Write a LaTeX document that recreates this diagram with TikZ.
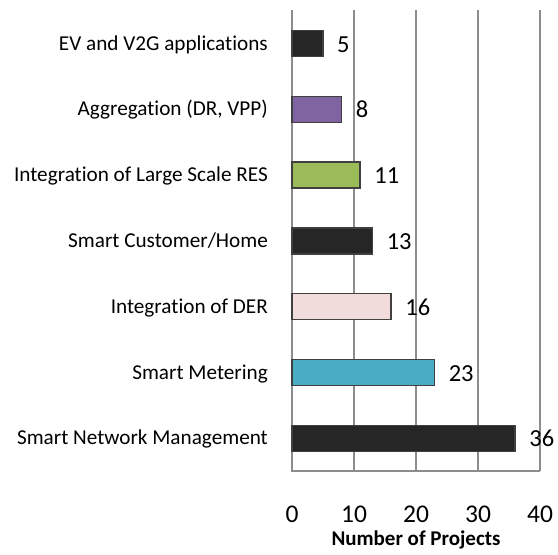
\documentclass[tikz,border=0pt]{standalone}
\usepackage{fontspec}
\setmainfont{Carlito}[Ligatures=NoCommon]
\definecolor{gridc}{HTML}{8C8C8C}
\definecolor{barline}{HTML}{404040}
\definecolor{cdark}{HTML}{262626}
\definecolor{cpurple}{HTML}{8064A2}
\definecolor{cgreen}{HTML}{9BBB59}
\definecolor{cpink}{HTML}{F2DCDB}
\definecolor{cteal}{HTML}{4BACC6}
\begin{document}
\begin{tikzpicture}[x=1pt,y=-1pt,
  grid/.style={draw=gridc,line width=1.3pt},
  bar/.style={draw=barline,line width=1.5pt},
  cat/.style={anchor=base east,inner sep=0pt,font=\fontsize{21.2}{24}\selectfont},
  val/.style={anchor=base west,inner sep=0pt,font=\fontsize{24.5}{28}\selectfont},
  tick/.style={anchor=base,inner sep=0pt,font=\fontsize{25.5}{28}\selectfont},
  axtitle/.style={anchor=base,inner sep=0pt,font=\bfseries\fontsize{21}{24}\selectfont}]
\useasboundingbox (0,0) rectangle (558,555);
% grid lines
\foreach \v in {1,2,3,4} {
  \draw[grid] (292+\v*62,10) -- (292+\v*62,471);
}
\draw[grid] (292,10) -- (292,471) -- (540,471);
% bars
\foreach \i/\val/\col/\lab in {
  0/5/cdark/{EV and V2G applications},
  1/8/cpurple/{Aggregation (DR, VPP)},
  2/11/cgreen/{Integration of Large Scale RES},
  3/13/cdark/{Smart Customer/Home},
  4/16/cpink/{Integration of DER},
  5/23/cteal/{Smart Metering},
  6/36/cdark/{Smart Network Management}} {
  \pgfmathsetmacro{\yc}{43.5+65.8*\i}
  \pgfmathsetmacro{\xe}{292+6.2*\val}
  \draw[bar,fill=\col] (292,\yc-13) rectangle (\xe,\yc+13);
  \node[cat] (c\i) at (268,\yc+6.5) {\lab};
  \node[val] (v\i) at (\xe+14,\yc+8.5) {\val};
}
% tick labels
\foreach \v in {0,10,20,30,40} {
  \node[tick] (t\v) at (292+6.2*\v,522) {\v};
}
\node[axtitle] (title) at (416,545) {Number of Projects};
\end{tikzpicture}
\end{document}
